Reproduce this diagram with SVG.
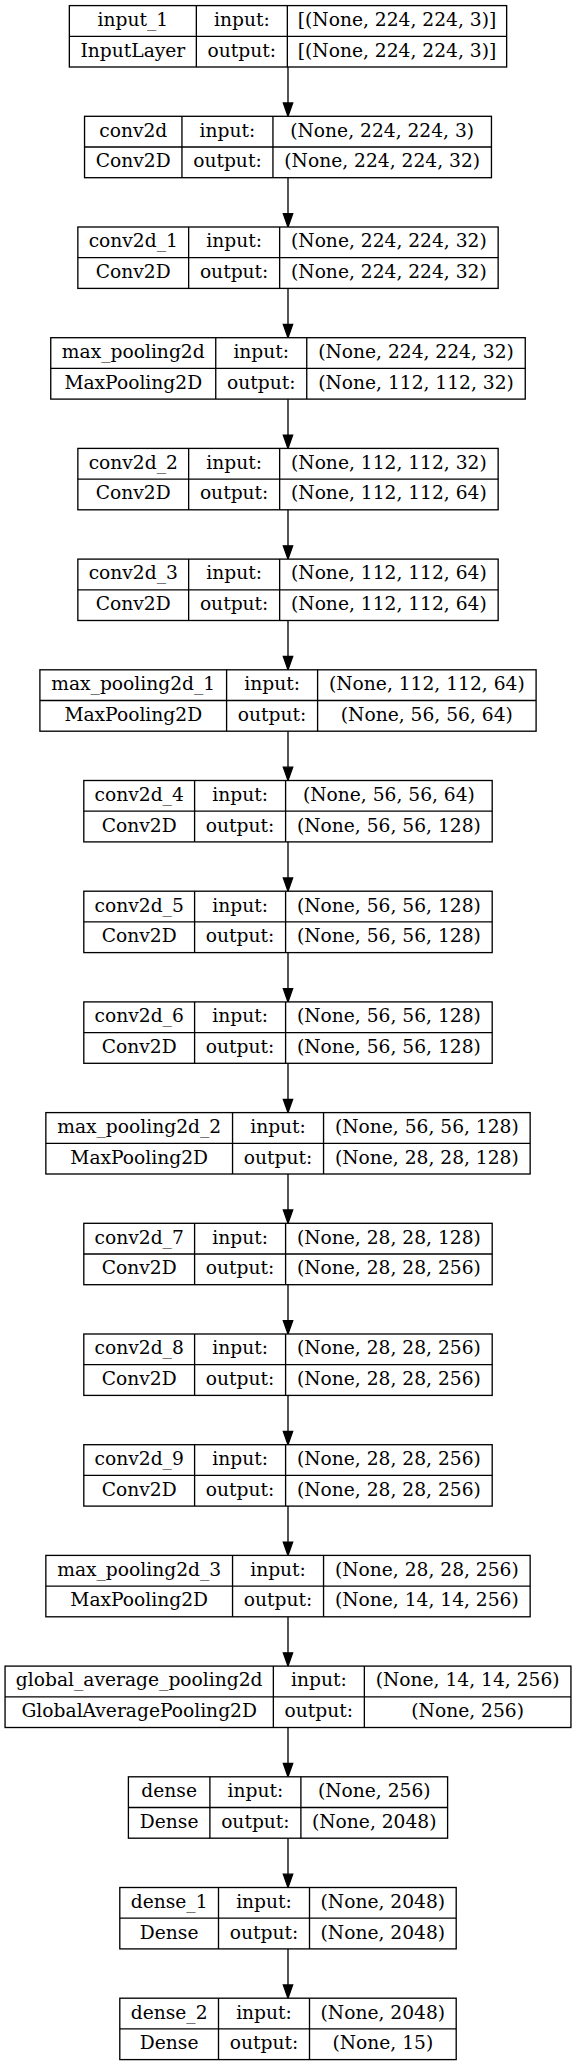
<svg xmlns="http://www.w3.org/2000/svg" width="576" height="2065" viewBox="0 0 576 2065">
<style>
.b{fill:#fff;stroke:#000;stroke-width:1.33}
.l{stroke:#000;stroke-width:1.33;fill:none}
text{font-family:"DejaVu Serif","Liberation Serif",serif;font-size:18.67px;fill:#000;text-anchor:middle}
.e{stroke:#000;stroke-width:1.33;fill:none}
</style>
<defs>
<marker id="ah" markerUnits="userSpaceOnUse" markerWidth="16" markerHeight="12" refX="0" refY="4.67" orient="auto" overflow="visible">
<path d="M0,0 L13.3,4.67 L0,9.33 Z" fill="#000" stroke="#000" stroke-width="1.33"/>
</marker>
</defs>
<rect width="576" height="2065" fill="#fff"/>
<g id="connectors">
<line class="e" x1="288" y1="67" x2="288" y2="103" marker-end="url(#ah)"/>
<line class="e" x1="288" y1="177.7" x2="288" y2="213.7" marker-end="url(#ah)"/>
<line class="e" x1="288" y1="288.4" x2="288" y2="324.4" marker-end="url(#ah)"/>
<line class="e" x1="288" y1="399.1" x2="288" y2="435.1" marker-end="url(#ah)"/>
<line class="e" x1="288" y1="509.8" x2="288" y2="545.8" marker-end="url(#ah)"/>
<line class="e" x1="288" y1="620.5" x2="288" y2="656.5" marker-end="url(#ah)"/>
<line class="e" x1="288" y1="731.2" x2="288" y2="767.2" marker-end="url(#ah)"/>
<line class="e" x1="288" y1="841.9" x2="288" y2="877.9" marker-end="url(#ah)"/>
<line class="e" x1="288" y1="952.6" x2="288" y2="988.6" marker-end="url(#ah)"/>
<line class="e" x1="288" y1="1063.3" x2="288" y2="1099.3" marker-end="url(#ah)"/>
<line class="e" x1="288" y1="1174" x2="288" y2="1210" marker-end="url(#ah)"/>
<line class="e" x1="288" y1="1284.7" x2="288" y2="1320.7" marker-end="url(#ah)"/>
<line class="e" x1="288" y1="1395.4" x2="288" y2="1431.4" marker-end="url(#ah)"/>
<line class="e" x1="288" y1="1506.1" x2="288" y2="1542.1" marker-end="url(#ah)"/>
<line class="e" x1="288" y1="1616.8" x2="288" y2="1652.8" marker-end="url(#ah)"/>
<line class="e" x1="288" y1="1727.5" x2="288" y2="1763.5" marker-end="url(#ah)"/>
<line class="e" x1="288" y1="1838.2" x2="288" y2="1874.2" marker-end="url(#ah)"/>
<line class="e" x1="288" y1="1948.9" x2="288" y2="1984.9" marker-end="url(#ah)"/>
</g>

<g id="input_1" transform="translate(0,5.6)">
<rect class="b" x="69.35" y="0" width="437.3" height="61.4"/>
<path class="l" d="M69.35,30.7H506.65M196.35,0V61.4M287.35,0V61.4"/>
<text x="132.85" y="20.4">input_1</text><text x="132.85" y="51.1">InputLayer</text>
<text x="241.85" y="20.4">input:</text><text x="241.85" y="51.1">output:</text>
<text x="397" y="20.4">[(None, 224, 224, 3)]</text><text x="397" y="51.1">[(None, 224, 224, 3)]</text>
</g>

<g id="conv2d" transform="translate(0,116.3)">
<rect class="b" x="84.55" y="0" width="406.9" height="61.4"/>
<path class="l" d="M84.55,30.7H491.45M181.95,0V61.4M272.95,0V61.4"/>
<text x="133.25" y="20.4">conv2d</text><text x="133.25" y="51.1">Conv2D</text>
<text x="227.45" y="20.4">input:</text><text x="227.45" y="51.1">output:</text>
<text x="382.2" y="20.4">(None, 224, 224, 3)</text><text x="382.2" y="51.1">(None, 224, 224, 32)</text>
</g>

<g id="conv2d_1" transform="translate(0,227)">
<rect class="b" x="77.85" y="0" width="420.3" height="61.4"/>
<path class="l" d="M77.85,30.7H498.15M188.65,0V61.4M279.65,0V61.4"/>
<text x="133.25" y="20.4">conv2d_1</text><text x="133.25" y="51.1">Conv2D</text>
<text x="234.15" y="20.4">input:</text><text x="234.15" y="51.1">output:</text>
<text x="388.9" y="20.4">(None, 224, 224, 32)</text><text x="388.9" y="51.1">(None, 224, 224, 32)</text>
</g>

<g id="max_pooling2d" transform="translate(0,337.7)">
<rect class="b" x="50.75" y="0" width="474.5" height="61.4"/>
<path class="l" d="M50.75,30.7H525.25M215.75,0V61.4M306.75,0V61.4"/>
<text x="133.25" y="20.4">max_pooling2d</text><text x="133.25" y="51.1">MaxPooling2D</text>
<text x="261.25" y="20.4">input:</text><text x="261.25" y="51.1">output:</text>
<text x="416" y="20.4">(None, 224, 224, 32)</text><text x="416" y="51.1">(None, 112, 112, 32)</text>
</g>

<g id="conv2d_2" transform="translate(0,448.4)">
<rect class="b" x="77.85" y="0" width="420.3" height="61.4"/>
<path class="l" d="M77.85,30.7H498.15M188.65,0V61.4M279.65,0V61.4"/>
<text x="133.25" y="20.4">conv2d_2</text><text x="133.25" y="51.1">Conv2D</text>
<text x="234.15" y="20.4">input:</text><text x="234.15" y="51.1">output:</text>
<text x="388.9" y="20.4">(None, 112, 112, 32)</text><text x="388.9" y="51.1">(None, 112, 112, 64)</text>
</g>

<g id="conv2d_3" transform="translate(0,559.1)">
<rect class="b" x="77.85" y="0" width="420.3" height="61.4"/>
<path class="l" d="M77.85,30.7H498.15M188.65,0V61.4M279.65,0V61.4"/>
<text x="133.25" y="20.4">conv2d_3</text><text x="133.25" y="51.1">Conv2D</text>
<text x="234.15" y="20.4">input:</text><text x="234.15" y="51.1">output:</text>
<text x="388.9" y="20.4">(None, 112, 112, 64)</text><text x="388.9" y="51.1">(None, 112, 112, 64)</text>
</g>

<g id="max_pooling2d_1" transform="translate(0,669.8)">
<rect class="b" x="39.9" y="0" width="496.2" height="61.4"/>
<path class="l" d="M39.9,30.7H536.1M226.6,0V61.4M317.6,0V61.4"/>
<text x="133.25" y="20.4">max_pooling2d_1</text><text x="133.25" y="51.1">MaxPooling2D</text>
<text x="272.1" y="20.4">input:</text><text x="272.1" y="51.1">output:</text>
<text x="426.85" y="20.4">(None, 112, 112, 64)</text><text x="426.85" y="51.1">(None, 56, 56, 64)</text>
</g>

<g id="conv2d_4" transform="translate(0,780.5)">
<rect class="b" x="83.8" y="0" width="408.4" height="61.4"/>
<path class="l" d="M83.8,30.7H492.2M194.6,0V61.4M285.6,0V61.4"/>
<text x="139.2" y="20.4">conv2d_4</text><text x="139.2" y="51.1">Conv2D</text>
<text x="240.1" y="20.4">input:</text><text x="240.1" y="51.1">output:</text>
<text x="388.9" y="20.4">(None, 56, 56, 64)</text><text x="388.9" y="51.1">(None, 56, 56, 128)</text>
</g>

<g id="conv2d_5" transform="translate(0,891.2)">
<rect class="b" x="83.8" y="0" width="408.4" height="61.4"/>
<path class="l" d="M83.8,30.7H492.2M194.6,0V61.4M285.6,0V61.4"/>
<text x="139.2" y="20.4">conv2d_5</text><text x="139.2" y="51.1">Conv2D</text>
<text x="240.1" y="20.4">input:</text><text x="240.1" y="51.1">output:</text>
<text x="388.9" y="20.4">(None, 56, 56, 128)</text><text x="388.9" y="51.1">(None, 56, 56, 128)</text>
</g>

<g id="conv2d_6" transform="translate(0,1001.9)">
<rect class="b" x="83.8" y="0" width="408.4" height="61.4"/>
<path class="l" d="M83.8,30.7H492.2M194.6,0V61.4M285.6,0V61.4"/>
<text x="139.2" y="20.4">conv2d_6</text><text x="139.2" y="51.1">Conv2D</text>
<text x="240.1" y="20.4">input:</text><text x="240.1" y="51.1">output:</text>
<text x="388.9" y="20.4">(None, 56, 56, 128)</text><text x="388.9" y="51.1">(None, 56, 56, 128)</text>
</g>

<g id="max_pooling2d_2" transform="translate(0,1112.6)">
<rect class="b" x="45.85" y="0" width="484.3" height="61.4"/>
<path class="l" d="M45.85,30.7H530.15M232.55,0V61.4M323.55,0V61.4"/>
<text x="139.2" y="20.4">max_pooling2d_2</text><text x="139.2" y="51.1">MaxPooling2D</text>
<text x="278.05" y="20.4">input:</text><text x="278.05" y="51.1">output:</text>
<text x="426.85" y="20.4">(None, 56, 56, 128)</text><text x="426.85" y="51.1">(None, 28, 28, 128)</text>
</g>

<g id="conv2d_7" transform="translate(0,1223.3)">
<rect class="b" x="83.8" y="0" width="408.4" height="61.4"/>
<path class="l" d="M83.8,30.7H492.2M194.6,0V61.4M285.6,0V61.4"/>
<text x="139.2" y="20.4">conv2d_7</text><text x="139.2" y="51.1">Conv2D</text>
<text x="240.1" y="20.4">input:</text><text x="240.1" y="51.1">output:</text>
<text x="388.9" y="20.4">(None, 28, 28, 128)</text><text x="388.9" y="51.1">(None, 28, 28, 256)</text>
</g>

<g id="conv2d_8" transform="translate(0,1334)">
<rect class="b" x="83.8" y="0" width="408.4" height="61.4"/>
<path class="l" d="M83.8,30.7H492.2M194.6,0V61.4M285.6,0V61.4"/>
<text x="139.2" y="20.4">conv2d_8</text><text x="139.2" y="51.1">Conv2D</text>
<text x="240.1" y="20.4">input:</text><text x="240.1" y="51.1">output:</text>
<text x="388.9" y="20.4">(None, 28, 28, 256)</text><text x="388.9" y="51.1">(None, 28, 28, 256)</text>
</g>

<g id="conv2d_9" transform="translate(0,1444.7)">
<rect class="b" x="83.8" y="0" width="408.4" height="61.4"/>
<path class="l" d="M83.8,30.7H492.2M194.6,0V61.4M285.6,0V61.4"/>
<text x="139.2" y="20.4">conv2d_9</text><text x="139.2" y="51.1">Conv2D</text>
<text x="240.1" y="20.4">input:</text><text x="240.1" y="51.1">output:</text>
<text x="388.9" y="20.4">(None, 28, 28, 256)</text><text x="388.9" y="51.1">(None, 28, 28, 256)</text>
</g>

<g id="max_pooling2d_3" transform="translate(0,1555.4)">
<rect class="b" x="45.85" y="0" width="484.3" height="61.4"/>
<path class="l" d="M45.85,30.7H530.15M232.55,0V61.4M323.55,0V61.4"/>
<text x="139.2" y="20.4">max_pooling2d_3</text><text x="139.2" y="51.1">MaxPooling2D</text>
<text x="278.05" y="20.4">input:</text><text x="278.05" y="51.1">output:</text>
<text x="426.85" y="20.4">(None, 28, 28, 256)</text><text x="426.85" y="51.1">(None, 14, 14, 256)</text>
</g>

<g id="global_average_pooling2d" transform="translate(0,1666.1)">
<rect class="b" x="5.05" y="0" width="565.9" height="61.4"/>
<path class="l" d="M5.05,30.7H570.95M273.35,0V61.4M364.35,0V61.4"/>
<text x="139.2" y="20.4">global_average_pooling2d</text><text x="139.2" y="51.1">GlobalAveragePooling2D</text>
<text x="318.85" y="20.4">input:</text><text x="318.85" y="51.1">output:</text>
<text x="467.65" y="20.4">(None, 14, 14, 256)</text><text x="467.65" y="51.1">(None, 256)</text>
</g>

<g id="dense" transform="translate(0,1776.8)">
<rect class="b" x="128.4" y="0" width="319.2" height="61.4"/>
<path class="l" d="M128.4,30.7H447.6M209.9,0V61.4M300.9,0V61.4"/>
<text x="169.15" y="20.4">dense</text><text x="169.15" y="51.1">Dense</text>
<text x="255.4" y="20.4">input:</text><text x="255.4" y="51.1">output:</text>
<text x="374.25" y="20.4">(None, 256)</text><text x="374.25" y="51.1">(None, 2048)</text>
</g>

<g id="dense_1" transform="translate(0,1887.5)">
<rect class="b" x="119.8" y="0" width="336.4" height="61.4"/>
<path class="l" d="M119.8,30.7H456.2M218.5,0V61.4M309.5,0V61.4"/>
<text x="169.15" y="20.4">dense_1</text><text x="169.15" y="51.1">Dense</text>
<text x="264" y="20.4">input:</text><text x="264" y="51.1">output:</text>
<text x="382.85" y="20.4">(None, 2048)</text><text x="382.85" y="51.1">(None, 2048)</text>
</g>

<g id="dense_2" transform="translate(0,1998.2)">
<rect class="b" x="119.8" y="0" width="336.4" height="61.4"/>
<path class="l" d="M119.8,30.7H456.2M218.5,0V61.4M309.5,0V61.4"/>
<text x="169.15" y="20.4">dense_2</text><text x="169.15" y="51.1">Dense</text>
<text x="264" y="20.4">input:</text><text x="264" y="51.1">output:</text>
<text x="382.85" y="20.4">(None, 2048)</text><text x="382.85" y="51.1">(None, 15)</text>
</g>
</svg>
